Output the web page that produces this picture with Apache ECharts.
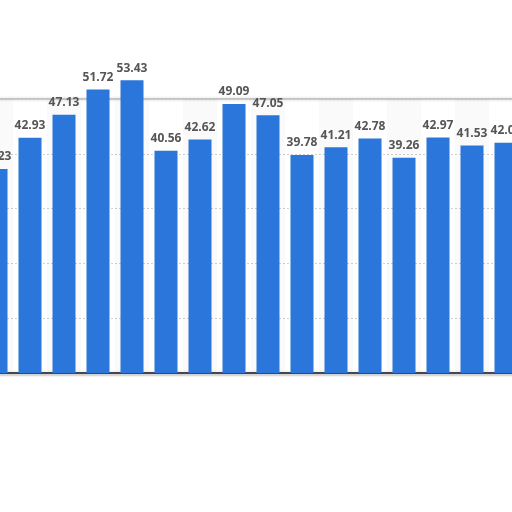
<!DOCTYPE html>
<html>
<head>
<meta charset="utf-8">
<script src="https://cdn.jsdelivr.net/npm/echarts@6/dist/echarts.min.js"></script>
<style>
html,body{margin:0;padding:0;background:#fff;overflow:hidden;width:512px;height:512px;}
#chart{position:absolute;left:-21px;top:0;width:544px;height:512px;}
</style>
</head>
<body>
<div id="chart"></div>
<script>
var categories = ['1','2','3','4','5','6','7','8','9','10','11','12','13','14','15','16'];
var values = [37.23, 42.93, 47.13, 51.72, 53.43, 40.56, 42.62, 49.09, 47.05, 39.78, 41.21, 42.78, 39.26, 42.97, 41.53, 42.03];
var yMin = 0, yMax = 50, yStep = 10;

var chart = echarts.init(document.getElementById('chart'), null, {renderer: 'canvas'});
chart.setOption({
  animation: false,
  backgroundColor: '#ffffff',
  grid: {
    left: 0, right: 0, top: 99, bottom: 139,
    show: true, backgroundColor: 'transparent',
    borderColor: '#c4c4c4', borderWidth: 2,
    shadowColor: 'rgba(0,0,0,0.15)', shadowBlur: 3
  },
  xAxis: {
    type: 'category',
    data: categories,
    axisLine: {show: true, lineStyle: {color: '#1c1c24', width: 1.5,
      shadowColor: 'rgba(0,0,0,0.25)', shadowBlur: 2, shadowOffsetY: 2}},
    axisTick: {show: false},
    axisLabel: {show: false},
    splitArea: {show: true, areaStyle: {color: ['rgba(0,0,0,0.02)', 'rgba(255,255,255,0)']}}
  },
  yAxis: {
    type: 'value',
    min: yMin, max: yMax, interval: yStep,
    axisLine: {show: false},
    axisTick: {show: false},
    axisLabel: {show: false},
    splitLine: {show: true, lineStyle: {color: '#cfcfcf', type: [2, 2], width: 1}}
  },
  series: [{
    type: 'bar',
    data: values,
    barWidth: 23,
    clip: false,
    itemStyle: {color: '#2a76da'},
    label: {
      show: true, position: 'top', distance: 6,
      color: '#555555', fontWeight: 'bold', fontSize: 12,
      fontFamily: 'Open Sans, Liberation Sans, sans-serif',
      formatter: function (p) { return p.value.toFixed(2); }
    }
  }]
});
</script>
</body>
</html>
